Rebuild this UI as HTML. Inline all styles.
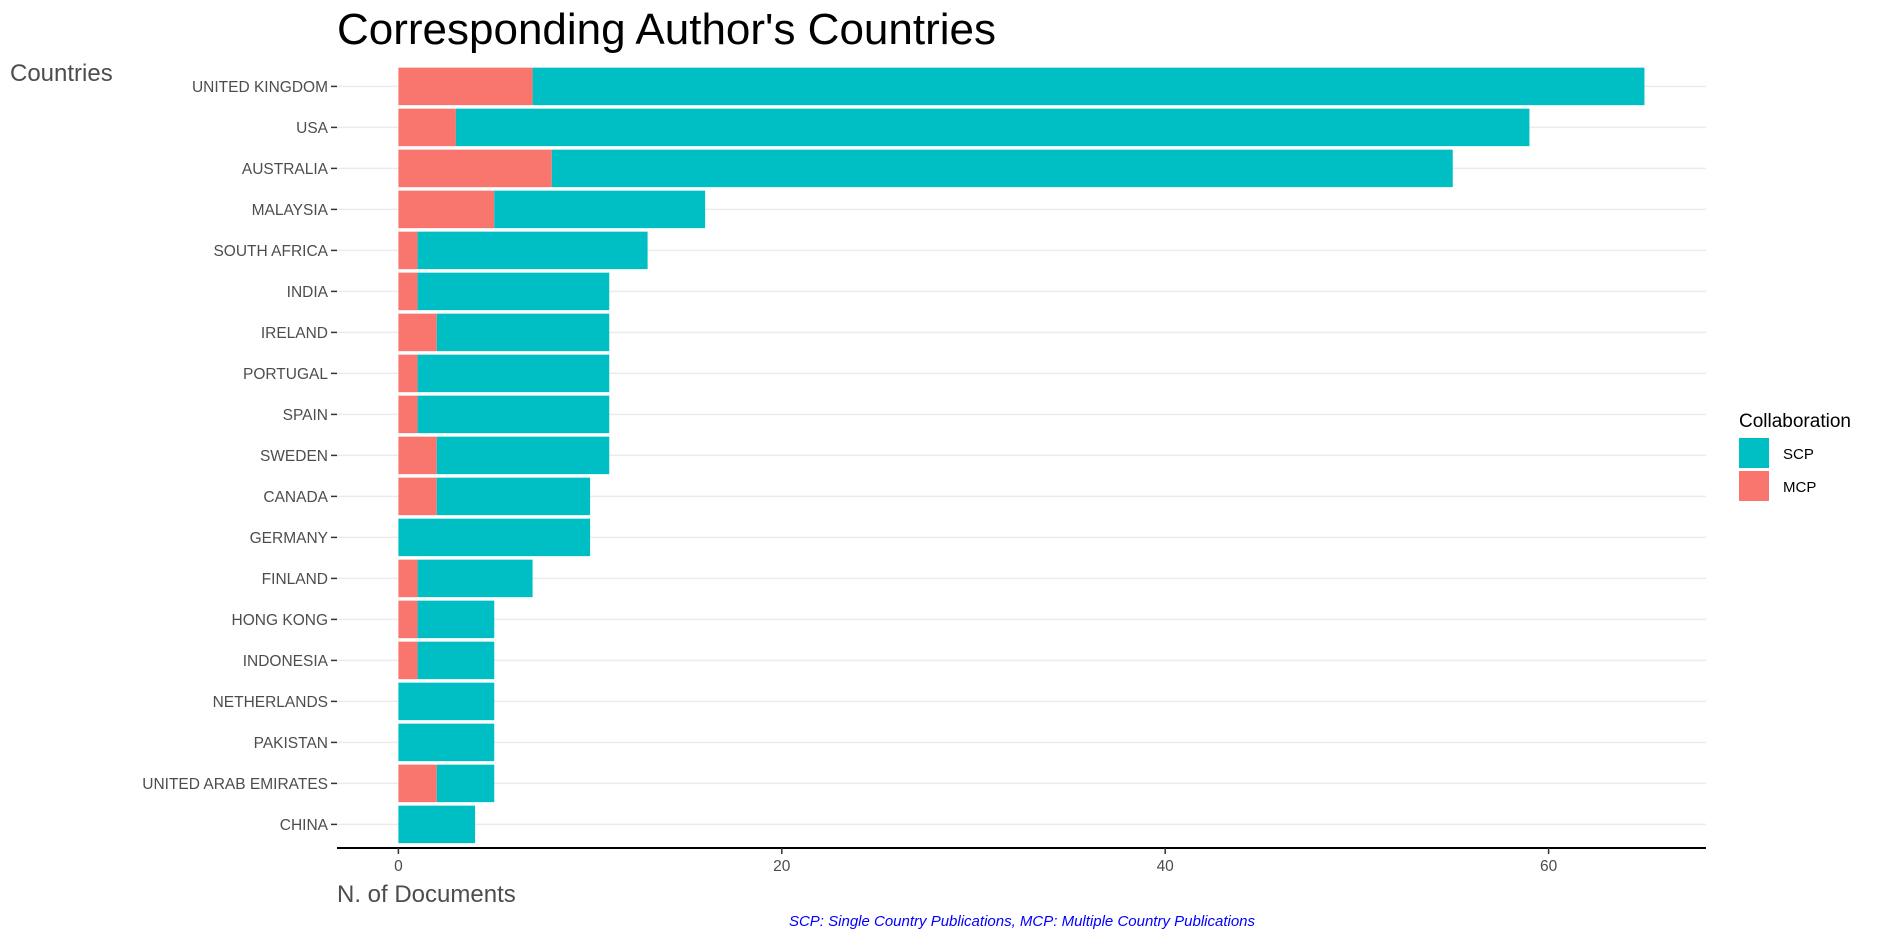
<!DOCTYPE html>
<html><head><meta charset="utf-8"><style>
body{margin:0;background:#fff;}
svg{display:block;font-family:"Liberation Sans",Arial,sans-serif;}
</style></head><body>
<svg id="chart" width="1881" height="940" xmlns="http://www.w3.org/2000/svg">
<text x="337" y="44" font-size="44" fill="#000">Corresponding Author's Countries</text>
<text x="10" y="81" font-size="24" fill="#4d4d4d">Countries</text>
<text x="337" y="902" font-size="24" fill="#4d4d4d">N. of Documents</text>
<text x="1022" y="926" font-size="15" font-style="italic" fill="#0000ff" text-anchor="middle">SCP: Single Country Publications, MCP: Multiple Country Publications</text>
<g id="grid"></g>
<g id="bars"></g>
<g id="yaxis"></g>
<g id="xaxis"></g>
<g>
<text x="1739" y="427" font-size="19" fill="#000">Collaboration</text>
<rect x="1739" y="438" width="30" height="30" fill="#00BFC4"/>
<text x="1783" y="459" font-size="15" fill="#000">SCP</text>
<rect x="1739" y="471" width="30" height="30" fill="#F8766D"/>
<text x="1783" y="492" font-size="15" fill="#000">MCP</text>
</g>
</svg>
<script>
const countries=["UNITED KINGDOM","USA","AUSTRALIA","MALAYSIA","SOUTH AFRICA","INDIA","IRELAND","PORTUGAL","SPAIN","SWEDEN","CANADA","GERMANY","FINLAND","HONG KONG","INDONESIA","NETHERLANDS","PAKISTAN","UNITED ARAB EMIRATES","CHINA"];
const mcp=[7,3,8,5,1,1,2,1,1,2,2,0,1,1,1,0,0,2,0];
const scp=[58,56,47,11,12,10,9,10,10,9,8,10,6,4,4,5,5,3,4];
const xTicks=[0,20,40,60];
const NS="http://www.w3.org/2000/svg";
const x0=398.4, pxPer=19.17, yTop=86.4, step=41, barH=37.5, panelL=337, panelR=1706, axisY=848;
const xs=v=>x0+v*pxPer;
const ys=i=>yTop+i*step;
function mk(tag,attrs,parent){const e=document.createElementNS(NS,tag);for(const k in attrs)e.setAttribute(k,attrs[k]);parent.appendChild(e);return e;}
const grid=document.getElementById('grid'),bars=document.getElementById('bars'),ya=document.getElementById('yaxis'),xa=document.getElementById('xaxis');
countries.forEach((c,i)=>{
  const y=ys(i);
  const gl=mk('line',{x1:panelL,x2:panelR,y1:y,y2:y,stroke:'#ebebeb','stroke-width':1.5},grid);
  
  
  const m=mk('rect',{x:xs(0),y:y-barH/2,width:xs(mcp[i])-xs(0),height:barH,fill:'#F8766D'},bars);
  
  
  const s=mk('rect',{x:xs(mcp[i]),y:y-barH/2,width:xs(mcp[i]+scp[i])-xs(mcp[i]),height:barH,fill:'#00BFC4'},bars);
  
  
  const t=mk('line',{x1:331,x2:337,y1:y,y2:y,stroke:'#333','stroke-width':1.5},ya);
  
  
  const l=mk('text',{x:328,y:y+5.5,'font-size':15.5,fill:'#4d4d4d','text-anchor':'end'},ya);
  l.textContent=c;
  
  
});
const ax=mk('line',{x1:panelL,x2:panelR,y1:axisY,y2:axisY,stroke:'#000','stroke-width':2},xa);


xTicks.forEach(v=>{
  const t=mk('line',{x1:xs(v),x2:xs(v),y1:axisY,y2:axisY+6,stroke:'#333','stroke-width':1.5},xa);
  
  
  const l=mk('text',{x:xs(v),y:axisY+23,'font-size':15.5,fill:'#4d4d4d','text-anchor':'middle'},xa);
  l.textContent=v;
  
  
});
</script>
</body></html>
